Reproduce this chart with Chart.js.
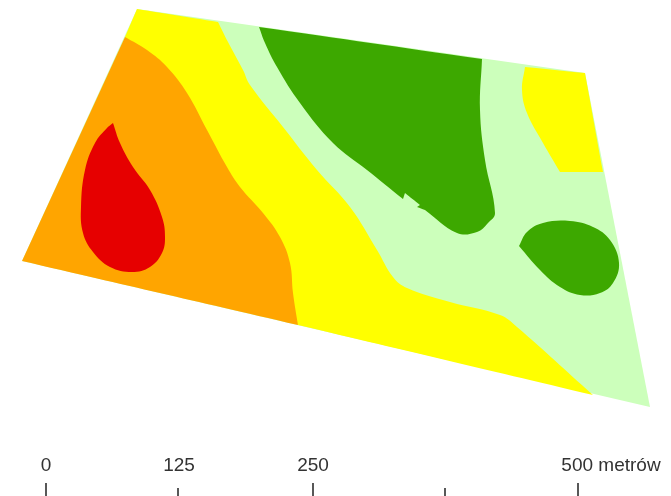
<!DOCTYPE html>
<html>
<head>
<meta charset="utf-8">
<style>body { margin: 0; background: #fff; }</style>
<script src="https://cdn.jsdelivr.net/npm/chart.js@4"></script>
</head>
<body>
<canvas id="myChart" width="671" height="496"></canvas>
<script>
// zones, in map units (a repeated point keeps a sharp corner)
const fieldX = [137, 585, 650, 22];
const fieldY = [9, 73, 407, 261];

const yellowX = [137, 137, 218, 218, 228, 243, 250, 283, 317, 350, 377, 393, 407, 450, 500, 517, 593, 593, 298, 298, 125, 125];
const yellowY = [9, 9, 22, 22, 42, 70, 85, 127, 170, 207, 250, 277, 288, 302, 315, 327, 395, 395, 325, 325, 37, 37];

const orangeX = [125, 125, 147, 167, 187, 207, 227, 240, 263, 280, 290, 293, 298, 298, 22, 22];
const orangeY = [37, 37, 50, 67, 93, 130, 167, 187, 213, 237, 263, 293, 325, 325, 261, 261];

const redX = [113, 113, 120, 133, 150, 162, 165, 162, 150, 132, 110, 93, 83, 81, 85, 95, 107, 113];
const redY = [123, 123, 143, 167, 190, 217, 237, 253, 267, 272, 267, 252, 233, 207, 170, 143, 128, 123];

const greenBigX = [259, 259, 482, 482, 480, 485, 495, 488, 477, 457, 425, 425, 417, 417, 420, 420, 405, 405, 403, 403, 367, 333, 300, 277, 265, 259, 259];
const greenBigY = [27, 27, 59, 59, 110, 160, 213, 223, 232, 233, 210, 210, 207, 207, 205, 205, 193, 193, 199, 199, 170, 143, 103, 67, 43, 27, 27];

const greenSmallX = [519, 519, 527, 543, 570, 593, 610, 619, 613, 600, 580, 560, 540, 519, 519];
const greenSmallY = [246, 246, 232, 223, 221, 227, 240, 263, 283, 293, 295, 287, 270, 246, 246];

const yellowCornerX = [525, 525, 585, 585, 603, 603, 560, 560, 543, 527, 522, 525, 525];
const yellowCornerY = [67, 67, 73, 73, 172, 172, 172, 172, 143, 113, 90, 67, 67];

// scale bar
const barTickX = [46, 178, 313, 445, 578];
const barTickTop = [483, 488, 483, 488, 483];
const barLabels = ['0', '125', '250', '500 metrów'];
const barLabelX = [46, 179, 313, 611];
const barLabelY = 466;

function zone(xs, ys, color, tension) {
    return {
        data: xs.map((x, i) => ({ x: x, y: ys[i] })),
        backgroundColor: color,
        borderWidth: 0,
        pointRadius: 0,
        showLine: true,
        fill: 'shape',
        tension: tension
    };
}

const tickPoints = [];
barTickX.forEach((x, i) => {
    tickPoints.push({ x: x, y: barTickTop[i] }, { x: x, y: 496 }, { x: x, y: NaN });
});

// first dataset is drawn on top
const datasets = [
    {
        data: tickPoints,
        borderColor: '#222',
        borderWidth: 1.5,
        pointRadius: 0,
        showLine: true,
        spanGaps: false
    },
    zone(redX, redY, '#e60000', 0.4),
    zone(orangeX, orangeY, '#ffa500', 0.4),
    zone(yellowCornerX, yellowCornerY, '#ffff00', 0.4),
    zone(yellowX, yellowY, '#ffff00', 0.4),
    zone(greenSmallX, greenSmallY, '#3da800', 0.4),
    zone(greenBigX, greenBigY, '#3da800', 0.4),
    zone(fieldX, fieldY, '#ccffbb', 0)
];

const barText = {
    id: 'barText',
    afterDatasetsDraw(chart) {
        const ctx = chart.ctx;
        ctx.save();
        ctx.font = '19px "Liberation Sans"';
        ctx.fillStyle = '#333';
        ctx.textAlign = 'center';
        ctx.textBaseline = 'middle';
        barLabels.forEach((label, i) => {
            ctx.fillText(label, chart.scales.x.getPixelForValue(barLabelX[i]), chart.scales.y.getPixelForValue(barLabelY));
        });
        ctx.restore();
    }
};

new Chart(document.getElementById('myChart').getContext('2d'), {
    type: 'scatter',
    data: { datasets: datasets },
    plugins: [barText],
    options: {
        responsive: false,
        animation: false,
        layout: { padding: 0 },
        scales: {
            x: { type: 'linear', min: 0, max: 671, display: false },
            y: { type: 'linear', min: 0, max: 496, reverse: true, display: false }
        },
        plugins: {
            legend: { display: false },
            tooltip: { enabled: false }
        }
    }
});
</script>
</body>
</html>
